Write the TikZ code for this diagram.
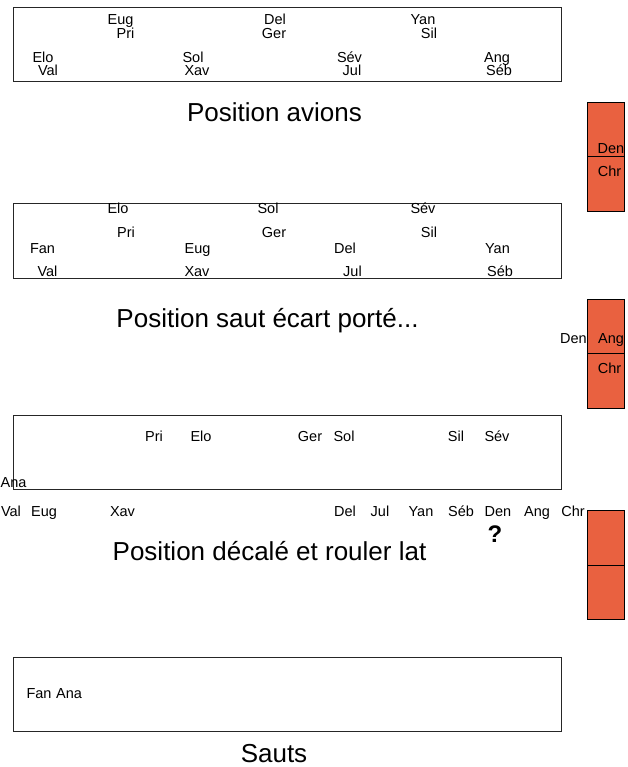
\documentclass[tikz,border=0pt]{standalone}
\usepackage{fontspec}
\setmainfont{Liberation Sans}
\definecolor{tile}{RGB}{233,97,64}
\tikzset{
  panel/.style={draw=black!85, line width=0.9pt, minimum width=548pt, minimum height=74pt,
    inner sep=0, anchor=north west},
  tilebox/.style={draw=black, line width=0.8pt, fill=tile, minimum width=37.5pt,
    minimum height=54.5pt, inner sep=0, anchor=north west},
  who/.style={anchor=base, inner sep=0, font=\fontsize{14.5}{17}\selectfont},
  caption/.style={anchor=base, inner sep=0, font=\fontsize{26}{30}\selectfont},
  query/.style={anchor=base, inner sep=0, font=\fontsize{24}{28}\selectfont\bfseries},
}
\begin{document}
\begin{tikzpicture}[x=1pt,y=-1pt]
\useasboundingbox (0,0) rectangle (628,767);

% formation panels
\node[panel] (p1) at (13,7) {};
\node[panel] (p2) at (13,203.5) {};
\node[panel] (p3) at (13,415) {};
\node[panel] (p4) at (13,657) {};

% side tiles
\node[tilebox] (t1a) at (586.5,102) {};
\node[tilebox] (t1b) at (586.5,156.5) {};
\node[tilebox] (t2a) at (586.5,298.5) {};
\node[tilebox] (t2b) at (586.5,353) {};

% panel 1: planes
\node[who] (a-eug) at (120.5,25) {Eug};
\node[who] (a-pri) at (125.5,39) {Pri};
\node[who] (a-del) at (275,25) {Del};
\node[who] (a-ger) at (274,39) {Ger};
\node[who] (a-yan) at (423,25) {Yan};
\node[who] (a-sil) at (429,39) {Sil};
\node[who] (a-elo) at (43,63) {Elo};
\node[who] (a-val) at (48,76) {Val};
\node[who] (a-sol) at (193,63) {Sol};
\node[who] (a-xav) at (197,76) {Xav};
\node[who] (a-sev) at (349.5,63) {Sév};
\node[who] (a-jul) at (352,76) {Jul};
\node[who] (a-ang) at (497,63) {Ang};
\node[who] (a-seb) at (499,76) {Séb};
\node[caption] (cap1) at (274.5,121.5) {Position avions};

% tile 1
\node[who] (t1-den) at (611,154) {Den};
\node[who] (t1-chr) at (609.5,177) {Chr};

% panel 2: jump
\node[who] (b-elo) at (118,213) {Elo};
\node[who] (b-pri) at (126,237) {Pri};
\node[who] (b-fan) at (42.5,253) {Fan};
\node[who] (b-eug) at (197.5,253) {Eug};
\node[who] (b-val) at (47.5,276) {Val};
\node[who] (b-xav) at (197,276) {Xav};
\node[who] (b-sol) at (268,213) {Sol};
\node[who] (b-ger) at (274,237) {Ger};
\node[who] (b-sev) at (423,213) {Sév};
\node[who] (b-sil) at (429,237) {Sil};
\node[who] (b-del) at (345,253) {Del};
\node[who] (b-yan) at (497.5,253) {Yan};
\node[who] (b-jul) at (352.5,276) {Jul};
\node[who] (b-seb) at (500,276) {Séb};
\node[caption] (cap2) at (267.5,327) {Position saut écart porté...};

% tile 2
\node[who] (t2-den) at (573.5,343) {Den};
\node[who] (t2-ang) at (611,343) {Ang};
\node[who] (t2-chr) at (609.5,373) {Chr};

% panel 3: offset and lateral roll
\node[who] (c-pri) at (154,441) {Pri};
\node[who] (c-elo) at (201,441) {Elo};
\node[who] (c-ger) at (310,441) {Ger};
\node[who] (c-sol) at (344,441) {Sol};
\node[who] (c-sil) at (456,441) {Sil};
\node[who] (c-sev) at (497,441) {Sév};
\node[who] (c-ana) at (13.5,487) {Ana};
\node[who] (c-val) at (11,516) {Val};
\node[who] (c-eug) at (44,516) {Eug};
\node[who] (c-xav) at (122.5,516) {Xav};
\node[who] (c-del) at (345,516) {Del};
\node[who] (c-jul) at (380,516) {Jul};
\node[who] (c-yan) at (421,516) {Yan};
\node[who] (c-seb) at (461,516) {Séb};
\node[who] (c-den) at (498,516) {Den};
\node[who] (c-ang) at (537,516) {Ang};
\node[who] (c-chr) at (573,516) {Chr};
\node[query] (qm) at (495,542) {?};
\node[caption] (cap3) at (269.5,560) {Position décalé et rouler lat};

% tile 3 sits over the end of the row
\node[tilebox] (t3a) at (586.5,510) {};
\node[tilebox] (t3b) at (586.5,564.5) {};

% panel 4: jumps
\node[who] (d-fan) at (39,698) {Fan};
\node[who] (d-ana) at (69,698) {Ana};
\node[caption] (cap4) at (274,762) {Sauts};
\end{tikzpicture}
\end{document}
